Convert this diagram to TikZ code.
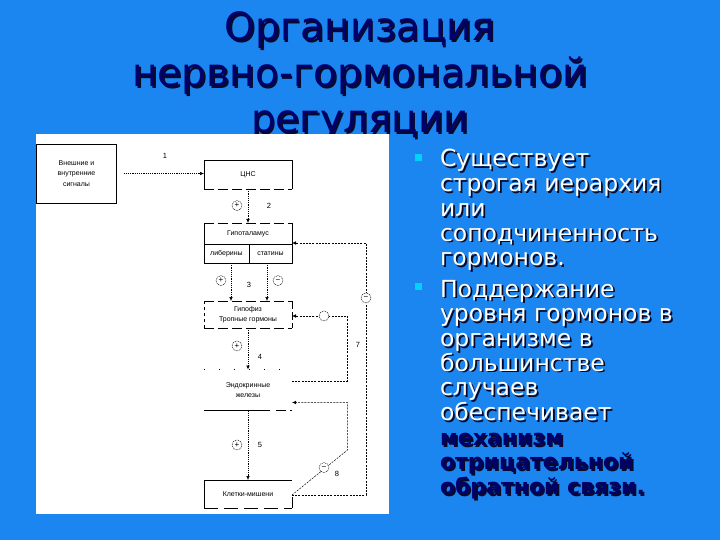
\documentclass[tikz,border=0pt]{standalone}
\usepackage{fontspec}
\setmainfont{DejaVu Sans}
\newfontfamily\diafont{Liberation Sans}
\usetikzlibrary{arrows.meta}
\definecolor{bg}{RGB}{28,134,240}
\definecolor{navy}{RGB}{0,0,105}
\definecolor{shadowc}{RGB}{10,10,40}
\definecolor{bul}{RGB}{0,210,250}
\newcommand{\shd}[2]{\rlap{\kern1.8pt\raisebox{-1.8pt}{\textcolor{shadowc}{#2}}}\textcolor{#1}{#2}}
\newcommand{\shtext}[5]{\node[#3] (#2) at (#1) {\shd{#4}{#5}};}
\begin{document}
\begin{tikzpicture}[x=1pt,y=-1pt,
  every node/.style={inner sep=0pt, outer sep=0pt},
  ttl/.style={font=\fontsize{39}{46}\selectfont, anchor=base},
  bl/.style={font=\fontsize{23.5}{25}\selectfont, anchor=base west},
  blb/.style={font=\fontsize{22}{25}\selectfont\bfseries, anchor=base west},
  box/.style={draw=none, rectangle},
  lbl/.style={font=\diafont\fontsize{7}{10.5}\selectfont, align=center},
  num/.style={font=\diafont\fontsize{7.5}{9}\selectfont},
  sgn/.style={circle, draw, dash pattern=on 1pt off 0.8pt, line width=0.45pt, minimum size=10pt, fill=white, font=\diafont\fontsize{8}{8}\selectfont},
  conn/.style={line width=0.5pt, dash pattern=on 1.2pt off 1pt, -{Latex[length=4pt,width=3.5pt]}},
  fb/.style={line width=0.5pt, dash pattern=on 2pt off 1.2pt},
  fba/.style={fb, -{Latex[length=4pt,width=3.5pt]}},
  edge/.style={line width=0.6pt},
  dedge/.style={line width=0.6pt, dash pattern=on 10pt off 4pt},
]
\fill[bg] (0,0) rectangle (720,540);
\useasboundingbox (0,0) rectangle (720,540);

% title
\shtext{360,41}{t1}{ttl}{navy}{Организация}
\shtext{360,87}{t2}{ttl}{navy}{нервно-гормональной}
\shtext{360,133}{t3}{ttl}{navy}{регуляции}

% white panel
\fill[white] (36,134) rectangle (389,514);

% bullets
\node[fill=bul, minimum size=7pt] (b1) at (418.5,157.5) {};
\node[fill=bul, minimum size=7pt] (b2) at (418.5,286.5) {};
\shtext{440,167}{l1}{bl}{white}{Существует}
\shtext{440,191.7}{l2}{bl}{white}{строгая иерархия}
\shtext{440,216.4}{l3}{bl}{white}{или}
\shtext{440,241.1}{l4}{bl}{white}{соподчиненность}
\shtext{440,265.8}{l5}{bl}{white}{гормонов.}
\shtext{440,297}{m1}{bl}{white}{Поддержание}
\shtext{440,321.7}{m2}{bl}{white}{уровня гормонов в}
\shtext{440,346.4}{m3}{bl}{white}{организме в}
\shtext{440,371.1}{m4}{bl}{white}{большинстве}
\shtext{440,395.8}{m5}{bl}{white}{случаев}
\shtext{440,420.5}{m6}{bl}{white}{обеспечивает}
\shtext{440,445.2}{m7}{blb}{navy}{механизм}
\shtext{440,469.9}{m8}{blb}{navy}{отрицательной}
\shtext{440,494.6}{m9}{blb}{navy}{обратной связи.}

% diagram boxes
\node[box, minimum width=80pt, minimum height=59pt, lbl] (ext) at (76.5,173.5) {Внешние и\\внутренние\\сигналы};
\node[box, minimum width=88pt, minimum height=29pt, lbl] (cns) at (248,174.5) {ЦНС};
\node[box, minimum width=88pt, minimum height=40pt] (hyp) at (248,243) {};
\node[lbl] (hyptxt) at (248,234) {Гипоталамус};
\node[lbl] (lib) at (226.5,254) {либерины};
\node[lbl] (stat) at (270.5,254) {статины};
\node[box, minimum width=88pt, minimum height=27pt, lbl] (pit) at (248,314.5) {Гипофиз\\Тропные гормоны};
\node[box, minimum width=88pt, minimum height=41pt, lbl] (endo) at (248,390) {Эндокринные\\железы};
\node[box, minimum width=88pt, minimum height=28pt, lbl] (tgt) at (248,494) {Клетки-мишени};

% box borders
\draw[edge] (ext.south west) rectangle (ext.north east);
\draw[edge] (cns.south west) -- (cns.north west) -- (cns.north east) -- (cns.south east);
\draw[dedge] (cns.south west) -- (cns.south east);
\draw[dedge] (hyp.north west) -- (hyp.north east);
\draw[edge] (hyp.north west) -- (hyp.south west) -- (hyp.south east) -- (hyp.north east);
\draw[edge] (204,244.5) -- (292,244.5);
\draw[edge] (249,244.5) -- (249,263);
\draw[dedge] (pit.north west) -- (pit.north east);
\draw[dedge] (pit.south west) -- (pit.south east);
\draw[line width=0.6pt, dash pattern=on 3pt off 3pt] (pit.north west) -- (pit.south west);
\draw[line width=0.6pt, dash pattern=on 8pt off 3pt] (pit.north east) -- (pit.south east);
\draw[line width=0.5pt, dash pattern=on 1pt off 14pt] (endo.north west) -- (endo.north east);
\draw[edge] (endo.south west) -- (270,410.5);
\draw[dedge] (276,410.5) -- (endo.south east);
\draw[edge] (tgt.south west) -- (tgt.north west) -- (tgt.north east);
\draw[edge] (292,497) -- (tgt.south east);
\draw[line width=0.6pt, dash pattern=on 14pt off 6pt] (tgt.south west) -- (tgt.south east);

% forward connectors
\draw[conn] ([xshift=7pt]ext.east) -- (ext.east -| cns.west);
\draw[conn] (cns.south) -- (hyp.north);
\draw[conn] (231,263) -- (231,301);
\draw[conn] (267,263) -- (267,301);
\draw[conn] (pit.south) -- (endo.north);
\draw[conn] (endo.south) -- (tgt.north);

% feedback loops
\coordinate (o1) at (366,243);
\coordinate (o2) at (366,495);
\draw[fba] (tgt.east |- o2) -- (o2) -- (o1) -- (hyp.east);
\coordinate (i1) at (347.5,316);
\coordinate (i2) at (347.5,381);
\draw[fba] (292,381) -- (i2) -- (i1) -- (pit.east |- i1);
\coordinate (j1) at (347.5,402.5);
\coordinate (j2) at (347.5,450);
\draw[fba] (tgt.east |- o2) -- (j2) -- (j1) -- (endo.east |- j1);

% signs
\node[sgn] (s2) at (237,205.6) {+};
\node[sgn] (s3a) at (221,280.6) {+};
\node[sgn] (s3b) at (278,280.6) {−};
\node[sgn] (s4) at (237,346) {+};
\node[sgn] (s5) at (237,445) {+};
\node[sgn] (s7) at (324,316) {};
\node[sgn] (so) at (366,298) {−};
\node[sgn] (s8) at (324,467.6) {−};

% numbers
\node[num] (n1) at (165,156) {1};
\node[num] (n2) at (269,205.6) {2};
\node[num] (n3) at (249,285) {3};
\node[num] (n4) at (260,357) {4};
\node[num] (n5) at (260,445) {5};
\node[num] (n7) at (358,345) {7};
\node[num] (n8) at (337,474) {8};
\end{tikzpicture}
\end{document}
